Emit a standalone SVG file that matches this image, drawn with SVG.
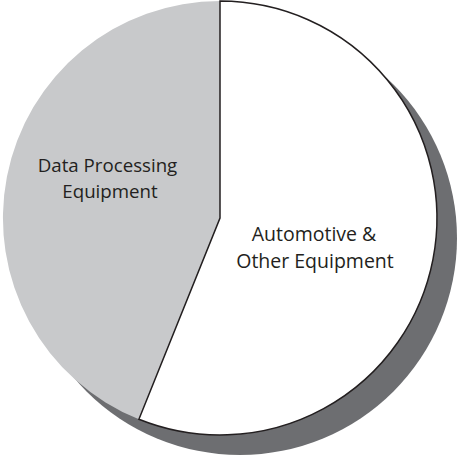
<svg xmlns="http://www.w3.org/2000/svg" width="459" height="458" viewBox="0 0 459 458">
<style>
.lbl{font-family:"Open Sans","Liberation Sans",sans-serif;font-size:19.5px;fill:#231f20;text-anchor:middle}
</style>
<rect width="459" height="458" fill="#ffffff"/>
<g id="shadow"><circle cx="240" cy="238" r="217" fill="#6d6e71"/></g>
<g id="data-processing">
<path d="M220,218 L138.9,419.3 A217,217 0 0,1 220,1 Z" fill="#c8c9cb"/>
<text class="lbl" x="107.5" y="172" style="font-size:18.7px">Data Processing</text>
<text class="lbl" x="110" y="198" style="font-size:18.7px">Equipment</text>
</g>
<g id="automotive">
<path d="M220,218 L220,1 A217,217 0 1,1 138.9,419.3 Z" fill="#ffffff" stroke="#231f20" stroke-width="1.5" stroke-linejoin="miter"/>
<text class="lbl" x="314" y="241">Automotive &amp;</text>
<text class="lbl" x="315" y="268">Other Equipment</text>
</g>
</svg>
